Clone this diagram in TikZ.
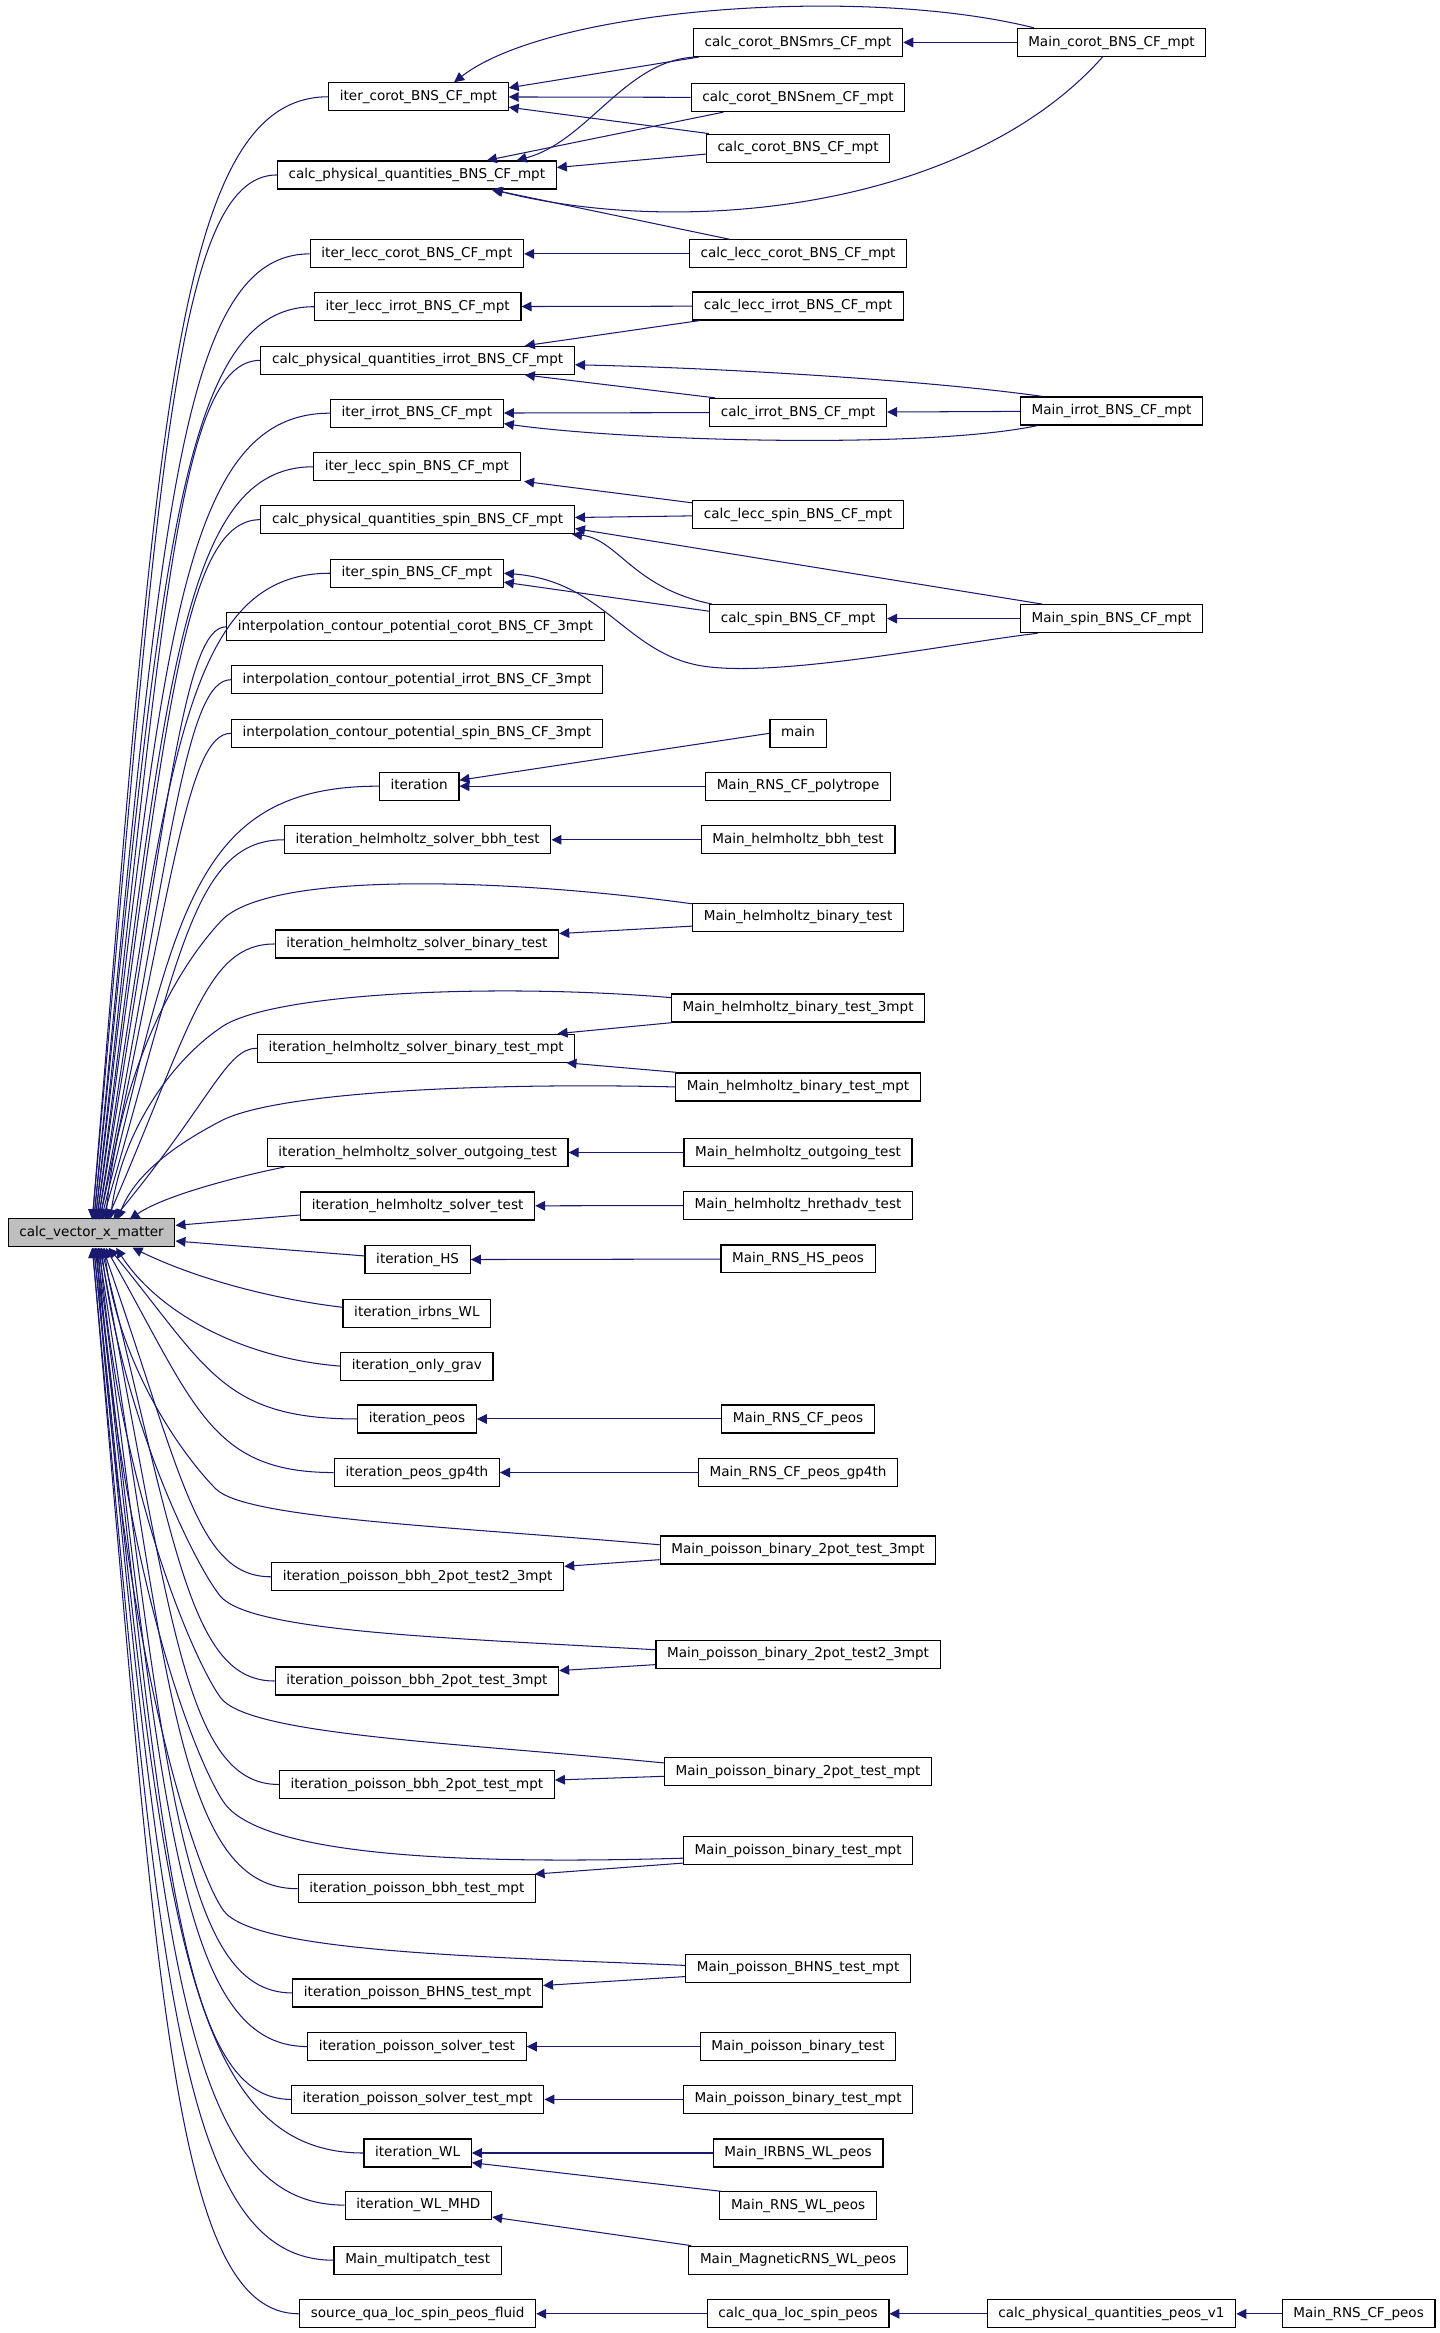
\documentclass[tikz,border=0pt]{standalone}
\usepackage{fontspec}
\setmainfont{DejaVu Sans}
\usetikzlibrary{arrows.meta}
\definecolor{edgeblue}{RGB}{25,25,112}
\tikzset{
  fn/.style={draw=black, line width=0.8pt, fill=white,
    font=\fontsize{9.1}{11}\selectfont, inner xsep=7.5pt, inner ysep=0pt,
    minimum height=18.8pt, text height=7pt, text depth=2.2pt},
  callarrow/.style={draw=edgeblue, line width=0.7pt,
    {Triangle[length=6.7pt,width=6.5pt]}-}
}

\begin{document}
\begin{tikzpicture}[x=1pt, y=-1pt]
  \useasboundingbox (0,0) rectangle (967.1,1566.9);

  % the called function
  \node[fn, fill=gray!50] (cvx) at (61.5,828) {calc\_vector\_x\_matter};

  % first rank of callers
  \node[fn] (icorot)   at (281,65)    {iter\_corot\_BNS\_CF\_mpt};
  \node[fn] (cpqbns)   at (280,117.5) {calc\_physical\_quantities\_BNS\_CF\_mpt};
  \node[fn] (ileccc)   at (280,170.5) {iter\_lecc\_corot\_BNS\_CF\_mpt};
  \node[fn] (iecci)    at (280.5,206) {iter\_lecc\_irrot\_BNS\_CF\_mpt};
  \node[fn] (cpqirrot) at (280.5,242) {calc\_physical\_quantities\_irrot\_BNS\_CF\_mpt};
  \node[fn] (iirrot)   at (280,277.5) {iter\_irrot\_BNS\_CF\_mpt};
  \node[fn] (ileccs)   at (280,313.5) {iter\_lecc\_spin\_BNS\_CF\_mpt};
  \node[fn] (cpqspin)  at (280.5,349) {calc\_physical\_quantities\_spin\_BNS\_CF\_mpt};
  \node[fn] (ispin)    at (280,385)   {iter\_spin\_BNS\_CF\_mpt};
  \node[fn] (icpcorot) at (279,421)   {interpolation\_contour\_potential\_corot\_BNS\_CF\_3mpt};
  \node[fn] (icpirrot) at (280,456.5) {interpolation\_contour\_potential\_irrot\_BNS\_CF\_3mpt};
  \node[fn] (icpspin)  at (280,492.5) {interpolation\_contour\_potential\_spin\_BNS\_CF\_3mpt};
  \node[fn] (iter)     at (281.5,528) {iteration};
  \node[fn] (ihbbh)    at (280.5,564) {iteration\_helmholtz\_solver\_bbh\_test};
  \node[fn] (ihbin)    at (280,634)   {iteration\_helmholtz\_solver\_binary\_test};
  \node[fn] (ihbinmpt) at (279.5,704) {iteration\_helmholtz\_solver\_binary\_test\_mpt};
  \node[fn] (ihout)    at (280.5,774) {iteration\_helmholtz\_solver\_outgoing\_test};
  \node[fn] (ihs)      at (280.5,810) {iteration\_helmholtz\_solver\_test};
  \node[fn] (iHS)      at (280.5,846) {iteration\_HS};
  \node[fn] (irbns)    at (280,882)   {iteration\_irbns\_WL};
  \node[fn] (igrav)    at (280,917.5) {iteration\_only\_grav};
  \node[fn] (ipeos)    at (280,953)   {iteration\_peos};
  \node[fn] (ipeos4)   at (280,989)   {iteration\_peos\_gp4th};
  \node[fn] (ipb2t23)  at (280.5,1059)  {iteration\_poisson\_bbh\_2pot\_test2\_3mpt};
  \node[fn] (ipb2t3)   at (280,1129)    {iteration\_poisson\_bbh\_2pot\_test\_3mpt};
  \node[fn] (ipb2tm)   at (280,1198.5)  {iteration\_poisson\_bbh\_2pot\_test\_mpt};
  \node[fn] (ipbm)     at (280,1268.5)  {iteration\_poisson\_bbh\_test\_mpt};
  \node[fn] (ipbhns)   at (280.5,1338.5){iteration\_poisson\_BHNS\_test\_mpt};
  \node[fn] (ipst)     at (280,1374.5)  {iteration\_poisson\_solver\_test};
  \node[fn] (ipstm)    at (280.5,1410)  {iteration\_poisson\_solver\_test\_mpt};
  \node[fn] (iwl)      at (280.5,1446)  {iteration\_WL};
  \node[fn] (iwlmhd)   at (281,1481)    {iteration\_WL\_MHD};
  \node[fn] (mmulti)   at (280.5,1518)  {Main\_multipatch\_test};
  \node[fn] (sqlsp)    at (280.5,1554)  {source\_qua\_loc\_spin\_peos\_fluid};

  % second rank
  \node[fn] (ccmrs)   at (536,28.5)  {calc\_corot\_BNSmrs\_CF\_mpt};
  \node[fn] (ccnem)   at (536,65.5)  {calc\_corot\_BNSnem\_CF\_mpt};
  \node[fn] (ccbns)   at (536,99.5)  {calc\_corot\_BNS\_CF\_mpt};
  \node[fn] (clcc)    at (536,170.5) {calc\_lecc\_corot\_BNS\_CF\_mpt};
  \node[fn] (clci)    at (536,205.5) {calc\_lecc\_irrot\_BNS\_CF\_mpt};
  \node[fn] (cirrot)  at (536,277)   {calc\_irrot\_BNS\_CF\_mpt};
  \node[fn] (clcs)    at (536,345.5) {calc\_lecc\_spin\_BNS\_CF\_mpt};
  \node[fn] (cspin)   at (536,415.5) {calc\_spin\_BNS\_CF\_mpt};
  \node[fn] (main)    at (536,492.5) {main};
  \node[fn] (mpoly)   at (536,528)   {Main\_RNS\_CF\_polytrope};
  \node[fn] (mhbbh)   at (536,564)   {Main\_helmholtz\_bbh\_test};
  \node[fn] (mhbin)   at (536,616)   {Main\_helmholtz\_binary\_test};
  \node[fn] (mhbin3)  at (536,677)   {Main\_helmholtz\_binary\_test\_3mpt};
  \node[fn] (mhbinm)  at (536,730)   {Main\_helmholtz\_binary\_test\_mpt};
  \node[fn] (mhout)   at (536,774)   {Main\_helmholtz\_outgoing\_test};
  \node[fn] (mhhreth) at (536,809.5) {Main\_helmholtz\_hrethadv\_test};
  \node[fn] (mrnshs)  at (536,845.5) {Main\_RNS\_HS\_peos};
  \node[fn] (mrnscf)  at (536,953)   {Main\_RNS\_CF\_peos};
  \node[fn] (mrnscf4) at (536,989)   {Main\_RNS\_CF\_peos\_gp4th};
  \node[fn] (mpb2t3)  at (536,1041)  {Main\_poisson\_binary\_2pot\_test\_3mpt};
  \node[fn] (mpb2t23) at (536,1111)  {Main\_poisson\_binary\_2pot\_test2\_3mpt};
  \node[fn] (mpb2tm)  at (536,1190)  {Main\_poisson\_binary\_2pot\_test\_mpt};
  \node[fn] (mpbtm)   at (536,1243)  {Main\_poisson\_binary\_test\_mpt};
  \node[fn] (mpbhns)  at (536,1322)  {Main\_poisson\_BHNS\_test\_mpt};
  \node[fn] (mpbt)    at (536,1374.5){Main\_poisson\_binary\_test};
  \node[fn] (mpbtm2)  at (536,1410)  {Main\_poisson\_binary\_test\_mpt};
  \node[fn] (mirbns)  at (536,1446)  {Main\_IRBNS\_WL\_peos};
  \node[fn] (mrnswl)  at (536,1481.5){Main\_RNS\_WL\_peos};
  \node[fn] (mmag)    at (536,1518)  {Main\_MagneticRNS\_WL\_peos};
  \node[fn] (cqlsp)   at (536,1554)  {calc\_qua\_loc\_spin\_peos};

  % third and fourth rank
  \node[fn] (mcorot)  at (746.5,28.5) {Main\_corot\_BNS\_CF\_mpt};
  \node[fn] (mirrot)  at (746.5,276)  {Main\_irrot\_BNS\_CF\_mpt};
  \node[fn] (mspin)   at (746.5,415.5){Main\_spin\_BNS\_CF\_mpt};
  \node[fn] (cpqpeos) at (746.5,1554) {calc\_physical\_quantities\_peos\_v1};
  \node[fn] (mrnscf5) at (912.5,1554) {Main\_RNS\_CF\_peos};

  % callers above calc_vector_x_matter
  \foreach \n/\yy/\ax in {icorot/65/62, cpqbns/117.5/62, ileccc/170.5/63,
      iecci/206/63, cpqirrot/242/64, iirrot/277.5/64, ileccs/313.5/65,
      cpqspin/349/65, ispin/385/66, icpcorot/421/66, icpirrot/456.5/67,
      icpspin/492.5/67, iter/528/68, ihbbh/564/69, ihbin/634/72,
      ihbinmpt/704/76}{
    \pgfmathsetmacro\hgap{abs(\yy-819)}
    \pgfmathsetmacro\ctrlx{\ax+40+3000/\hgap}
    \pgfmathsetmacro\ctrly{819-0.7*\hgap}
    \pgfmathsetmacro\ctrlz{max(112,\ctrlx+10)}
    \draw[callarrow] (\ax,819) .. controls (\ctrlx,\ctrly) and (\ctrlz,\yy) .. (\n.west);
  }
  % callers below calc_vector_x_matter
  \foreach \n/\yy/\ax in {ipeos/953/73, ipeos4/989/71, ipb2t23/1059/69,
      ipb2t3/1129/68, ipb2tm/1198.5/67, ipbm/1268.5/66, ipbhns/1338.5/65,
      ipst/1374.5/64, ipstm/1410/64, iwl/1446/63, iwlmhd/1481/63,
      mmulti/1518/62, sqlsp/1554/62}{
    \pgfmathsetmacro\hgap{abs(\yy-838)}
    \pgfmathsetmacro\ctrlx{\ax+40+3000/\hgap}
    \pgfmathsetmacro\ctrly{838+0.7*\hgap}
    \pgfmathsetmacro\ctrlz{max(112,\ctrlx+10)}
    \draw[callarrow] (\ax,838) .. controls (\ctrlx,\ctrly) and (\ctrlz,\yy) .. (\n.west);
  }
  % near ones
  \draw[callarrow] (87,819) .. controls (110,803) and (160,790) .. ([xshift=12pt]ihout.south west);
  \draw[callarrow] ([yshift=5pt]cvx.east) -- ([yshift=-6pt]ihs.west);
  \draw[callarrow] ([yshift=-5.5pt]cvx.east) -- ([yshift=2.5pt]iHS.west);
  \draw[callarrow] (89,838) .. controls (130,858) and (180,872) .. ([yshift=4pt]irbns.west);
  \draw[callarrow] (78,838) .. controls (105,880) and (160,912) .. (igrav.west);

  % main programs calling calc_vector_x_matter directly
  \draw[callarrow] (71,819) .. controls (80,720) and (118,650) .. (150,617)
    .. controls (185,585) and (340,590) .. ([yshift=9pt]mhbin.west);
  \draw[callarrow] (74,819) .. controls (82,760) and (115,712) .. (150,689)
    .. controls (185,667) and (330,660) .. ([yshift=7pt]mhbin3.west);
  \draw[callarrow] (79,819) .. controls (90,790) and (115,770) .. (150,752)
    .. controls (190,733) and (330,727) .. (mhbinm.west);
  \draw[callarrow] (70,838) .. controls (80,920) and (125,980) .. (145,1000)
    .. controls (165,1020) and (300,1025) .. ([yshift=3.5pt]mpb2t3.west);
  \draw[callarrow] (68,838) .. controls (82,950) and (130,1050) .. (148,1072)
    .. controls (168,1096) and (300,1100) .. ([yshift=3pt]mpb2t23.west);
  \draw[callarrow] (67,838) .. controls (80,1000) and (130,1115) .. (148,1140)
    .. controls (166,1165) and (300,1170) .. ([yshift=6pt]mpb2tm.west);
  \draw[callarrow] (66,838) .. controls (80,1050) and (130,1180) .. (150,1210)
    .. controls (175,1248) and (320,1252) .. ([yshift=-5pt]mpbtm.west);
  \draw[callarrow] (65,838) .. controls (80,1100) and (130,1255) .. (150,1283)
    .. controls (170,1311) and (320,1314) .. ([yshift=2pt]mpbhns.west);

  % corotating group
  \draw[callarrow] ([xshift=24pt]icorot.north) .. controls (370,5) and (580,-10) .. ([xshift=-52pt]mcorot.north);
  \draw[callarrow] (ccmrs) -- (mcorot);
  \draw[callarrow] ([xshift=51pt]cpqbns.south) .. controls (460,160) and (650,140) .. ([xshift=-6pt]mcorot.south);
  \draw[callarrow] ([yshift=6pt]icorot.east) -- ([xshift=4pt]ccmrs.south west);
  \draw[callarrow] ([xshift=67pt]cpqbns.north) .. controls (395,95) and (420,40) .. ([xshift=2pt]ccmrs.south west);
  \draw[callarrow] (icorot) -- (ccnem);
  \draw[callarrow] ([xshift=47pt]cpqbns.north) -- ([xshift=22pt]ccnem.south west);
  \draw[callarrow] ([yshift=-7pt]icorot.east) -- ([xshift=2pt]ccbns.north west);
  \draw[callarrow] ([yshift=5pt]cpqbns.east) -- ([yshift=-4pt]ccbns.west);
  \draw[callarrow] ([xshift=50pt]cpqbns.south) -- ([xshift=-46pt]clcc.north);
  \draw[callarrow] (ileccc) -- (clcc);

  % irrotational group
  \draw[callarrow] (iecci) -- (clci);
  \draw[callarrow] ([xshift=72pt]cpqirrot.north) -- ([xshift=5pt]clci.south west);
  \draw[callarrow] ([yshift=-3pt]cpqirrot.east) .. controls (480,247) and (620,255) .. ([xshift=15pt]mirrot.north west);
  \draw[callarrow] ([xshift=72pt]cpqirrot.south) -- ([xshift=4pt]cirrot.north west);
  \draw[callarrow] (iirrot) -- (cirrot);
  \draw[callarrow] (cirrot) -- (mirrot);
  \draw[callarrow] ([yshift=-7pt]iirrot.east) .. controls (420,296) and (620,302) .. ([xshift=12pt]mirrot.south west);

  % spinning group
  \draw[callarrow] ([xshift=72pt]ileccs.south) -- ([yshift=-2pt]clcs.north west);
  \draw[callarrow] (cpqspin) -- (clcs);
  \draw[callarrow] ([yshift=-6pt]cpqspin.east) -- ([xshift=15pt]mspin.north west);
  \draw[callarrow] ([xshift=-2pt]cpqspin.south east) .. controls (415,362) and (425,395) .. ([xshift=2pt]cspin.north west);
  \draw[callarrow] ([yshift=-6pt]ispin.east) -- ([yshift=5pt]cspin.west);
  \draw[callarrow] (cspin) -- (mspin);
  \draw[callarrow] (ispin.east) .. controls (405,390) and (420,438) .. (470,447)
    .. controls (520,456) and (640,432) .. ([xshift=12pt]mspin.south west);

  % the other callers
  \draw[callarrow] ([yshift=4pt]iter.east) -- (main.west);
  \draw[callarrow] (iter) -- (mpoly);
  \draw[callarrow] (ihbbh) -- (mhbbh);
  \draw[callarrow] ([yshift=7pt]ihbin.east) -- ([yshift=-6pt]mhbin.west);
  \draw[callarrow] ([xshift=-12pt]ihbinmpt.north east) -- ([xshift=1pt]mhbin3.south west);
  \draw[callarrow] ([xshift=-6pt]ihbinmpt.south east) -- ([xshift=1pt]mhbinm.north west);
  \draw[callarrow] (ihout) -- (mhout);
  \draw[callarrow] (ihs) -- (mhhreth);
  \draw[callarrow] (iHS) -- (mrnshs);
  \draw[callarrow] (ipeos) -- (mrnscf);
  \draw[callarrow] (ipeos4) -- (mrnscf4);
  \draw[callarrow] ([yshift=7pt]ipb2t23.east) -- ([yshift=-6.5pt]mpb2t3.west);
  \draw[callarrow] ([yshift=7pt]ipb2t3.east) -- ([yshift=-7pt]mpb2t23.west);
  \draw[callarrow] ([yshift=3pt]ipb2tm.east) -- ([yshift=-3pt]mpb2tm.west);
  \draw[callarrow] ([xshift=-1pt]ipbm.north east) -- ([yshift=1.5pt]mpbtm.south west);
  \draw[callarrow] ([yshift=5pt]ipbhns.east) -- ([yshift=-5.5pt]mpbhns.west);
  \draw[callarrow] (ipst) -- (mpbt);
  \draw[callarrow] (ipstm) -- (mpbtm2);
  \draw[callarrow] (iwl) -- (mirbns);
  \draw[callarrow] ([yshift=-6.5pt]iwl.east) -- ([xshift=1pt]mrnswl.north west);
  \draw[callarrow] ([yshift=-8pt]iwlmhd.east) -- ([xshift=2pt]mmag.north west);
  \draw[callarrow] (sqlsp) -- (cqlsp);
  \draw[callarrow] (cqlsp) -- (cpqpeos);
  \draw[callarrow] (cpqpeos) -- (mrnscf5);
\end{tikzpicture}
\end{document}
